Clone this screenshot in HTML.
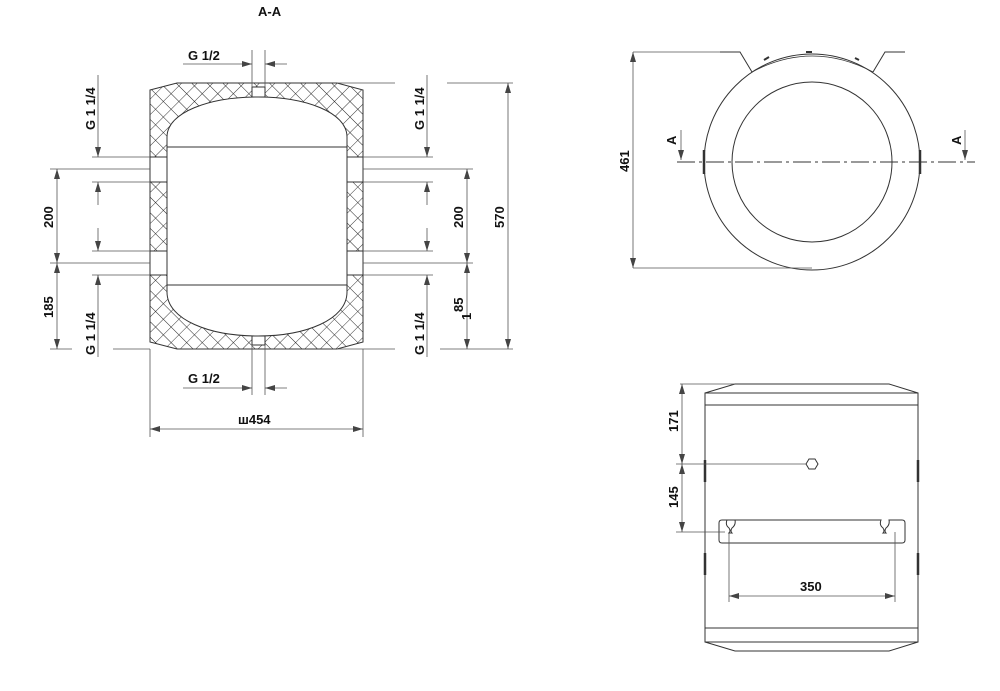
<!DOCTYPE html>
<html><head><meta charset="utf-8"><style>
body{margin:0;background:#fff}
svg{display:block}
text{font-family:"Liberation Sans",Arial,sans-serif;font-weight:bold;font-size:13px;fill:#111}
</style></head><body>
<svg width="1000" height="691" viewBox="0 0 1000 691" xmlns="http://www.w3.org/2000/svg">
<defs>
<pattern id="h" width="11" height="11" patternUnits="userSpaceOnUse" patternTransform="rotate(45)">
<path d="M0 0H11M0 0V11" stroke="#222" stroke-width="0.9" fill="none"/>
</pattern>
<marker id="a" viewBox="0 0 10 6" refX="10" refY="3" markerWidth="10" markerHeight="6" orient="auto-start-reverse" markerUnits="userSpaceOnUse">
<path d="M0 0L10 3L0 6z" fill="#444"/></marker>
</defs>
<g stroke="#333" stroke-width="1" fill="none">
<text x="258" y="16" stroke="none" font-size="12">A-A</text>
<path fill-rule="evenodd" fill="url(#h)" d="M150,90 L177,83 L337,83 L363,90 L363,342 L337,349 L177,349 L150,342 Z
M167,137 C167,112 210,97 258,97 C305,97 347,112 347,137 L347,292 C347,320 305,336 258,336 C210,336 167,320 167,292 Z"/>
<line x1="167" y1="147" x2="347" y2="147"/>
<line x1="167" y1="285" x2="347" y2="285"/>
<rect x="150" y="157" width="17" height="25" fill="#fff"/>
<rect x="150" y="251" width="17" height="24" fill="#fff"/>
<rect x="347" y="157" width="16" height="25" fill="#fff"/>
<rect x="347" y="251" width="16" height="24" fill="#fff"/>
<rect x="252" y="87" width="13" height="10" fill="#fff"/>
<rect x="252" y="336" width="13" height="9" fill="#fff"/>
<g stroke="#555" stroke-width="0.8">
<line x1="92" y1="157" x2="150" y2="157"/><line x1="92" y1="182" x2="150" y2="182"/>
<line x1="92" y1="251" x2="150" y2="251"/><line x1="92" y1="275" x2="150" y2="275"/>
<line x1="98" y1="75" x2="98" y2="157" marker-end="url(#a)"/>
<line x1="98" y1="182" x2="98" y2="205" marker-start="url(#a)"/>
<line x1="98" y1="228" x2="98" y2="251" marker-end="url(#a)"/>
<line x1="98" y1="275" x2="98" y2="357" marker-start="url(#a)"/>
<line x1="50" y1="169" x2="150" y2="169"/><line x1="50" y1="263" x2="150" y2="263"/>
<line x1="50" y1="349" x2="72" y2="349"/><line x1="113" y1="349" x2="150" y2="349"/>
<line x1="57" y1="169" x2="57" y2="263" marker-start="url(#a)" marker-end="url(#a)"/>
<line x1="57" y1="263" x2="57" y2="349" marker-start="url(#a)" marker-end="url(#a)"/>
<line x1="363" y1="157" x2="433" y2="157"/><line x1="363" y1="182" x2="433" y2="182"/>
<line x1="363" y1="251" x2="433" y2="251"/><line x1="363" y1="275" x2="433" y2="275"/>
<line x1="427" y1="75" x2="427" y2="157" marker-end="url(#a)"/>
<line x1="427" y1="182" x2="427" y2="205" marker-start="url(#a)"/>
<line x1="427" y1="228" x2="427" y2="251" marker-end="url(#a)"/>
<line x1="427" y1="275" x2="427" y2="357" marker-start="url(#a)"/>
<line x1="363" y1="169" x2="473" y2="169"/><line x1="363" y1="263" x2="473" y2="263"/>
<line x1="467" y1="169" x2="467" y2="263" marker-start="url(#a)" marker-end="url(#a)"/>
<line x1="467" y1="263" x2="467" y2="349" marker-start="url(#a)" marker-end="url(#a)"/>
<line x1="337" y1="83" x2="395" y2="83"/><line x1="447" y1="83" x2="513" y2="83"/>
<line x1="337" y1="349" x2="395" y2="349"/><line x1="440" y1="349" x2="513" y2="349"/>
<line x1="508" y1="83" x2="508" y2="349" marker-start="url(#a)" marker-end="url(#a)"/>
<line x1="252" y1="50" x2="252" y2="87"/><line x1="265" y1="50" x2="265" y2="87"/>
<line x1="183" y1="64" x2="252" y2="64" marker-end="url(#a)"/><line x1="287" y1="64" x2="265" y2="64" marker-end="url(#a)"/>
<line x1="252" y1="345" x2="252" y2="395"/><line x1="265" y1="345" x2="265" y2="395"/>
<line x1="183" y1="388" x2="252" y2="388" marker-end="url(#a)"/><line x1="287" y1="388" x2="265" y2="388" marker-end="url(#a)"/>
<line x1="150" y1="349" x2="150" y2="437"/><line x1="363" y1="349" x2="363" y2="437"/>
<line x1="150" y1="429" x2="363" y2="429" marker-start="url(#a)" marker-end="url(#a)"/>
</g>
<g stroke="none">
<text x="188" y="60">G 1/2</text>
<text x="188" y="383">G 1/2</text>
<text x="238" y="424">ш454</text>
<text transform="translate(95,130) rotate(-90)">G 1 1/4</text>
<text transform="translate(95,355) rotate(-90)">G 1 1/4</text>
<text transform="translate(424,130) rotate(-90)">G 1 1/4</text>
<text transform="translate(424,355) rotate(-90)">G 1 1/4</text>
<text transform="translate(53,228) rotate(-90)">200</text>
<text transform="translate(53,318) rotate(-90)">185</text>
<text transform="translate(463,228) rotate(-90)">200</text>
<text transform="translate(463,312) rotate(-90)">85</text>
<text transform="translate(471,320) rotate(-90)" font-size="12">1</text>
<text transform="translate(504,228) rotate(-90)">570</text>
</g>

<circle cx="812" cy="162" r="108"/>
<circle cx="812" cy="162" r="80"/>
<path d="M720,52 L740,52 L752,72 M905,52 L885,52 L873,72"/>
<path d="M752,72 Q812,40 873,72" stroke-width="0.8"/>
<path d="M764,60 l5,-3 M806,52 h6 M855,58 l4,2" stroke-width="2"/>
<path d="M704,150 v24 M920,150 v24" stroke-width="2.5"/>
<line x1="677" y1="162" x2="975" y2="162" stroke-dasharray="18,4,3,4"/>
<g stroke="#555" stroke-width="0.8">
<line x1="633" y1="52" x2="720" y2="52"/><line x1="633" y1="268" x2="812" y2="268"/>
<line x1="633" y1="52" x2="633" y2="268" marker-start="url(#a)" marker-end="url(#a)"/>
<line x1="681" y1="130" x2="681" y2="160" marker-end="url(#a)"/>
<line x1="965" y1="130" x2="965" y2="160" marker-end="url(#a)"/>
</g>
<g stroke="none">
<text transform="translate(629,172) rotate(-90)">461</text>
<text transform="translate(676,145) rotate(-90)">A</text>
<text transform="translate(961,145) rotate(-90)">A</text>
</g>

<rect x="705" y="393" width="213" height="249"/>
<path d="M705,393 L735,384 L889,384 L918,393 M705,642 L735,651 L889,651 L918,642"/>
<line x1="705" y1="405" x2="918" y2="405"/><line x1="705" y1="628" x2="918" y2="628"/>
<path d="M705,460 v22 M705,553 v22 M918,460 v22 M918,553 v22" stroke-width="2.5"/>
<path d="M735,520 H722 Q719,520 719,523 V540 Q719,543 722,543 H902 Q905,543 905,540 V523 Q905,520 902,520 H889 q1,5 -3,8 q-2,3 0,5 h-3 q2,-2 0,-5 q-4,-3 -2,-8 H735 q1,5 -3,8 q-2,3 0,5 h-3 q2,-2 0,-5 q-4,-3 -2,-8"/>
<polygon points="806,464 809,459 815,459 818,464 815,469 809,469"/>
<g stroke="#555" stroke-width="0.8">
<line x1="680" y1="384" x2="735" y2="384"/>
<line x1="676" y1="464" x2="806" y2="464"/>
<line x1="676" y1="532" x2="725" y2="532"/>
<line x1="682" y1="384" x2="682" y2="464" marker-start="url(#a)" marker-end="url(#a)"/>
<line x1="682" y1="464" x2="682" y2="532" marker-start="url(#a)" marker-end="url(#a)"/>
<line x1="729" y1="532" x2="729" y2="602"/><line x1="895" y1="532" x2="895" y2="602"/>
<line x1="729" y1="596" x2="895" y2="596" marker-start="url(#a)" marker-end="url(#a)"/>
</g>
<g stroke="none">
<text transform="translate(678,432) rotate(-90)">171</text>
<text transform="translate(678,508) rotate(-90)">145</text>
<text x="800" y="591">350</text>
</g>
</g>
</svg>
</body></html>
